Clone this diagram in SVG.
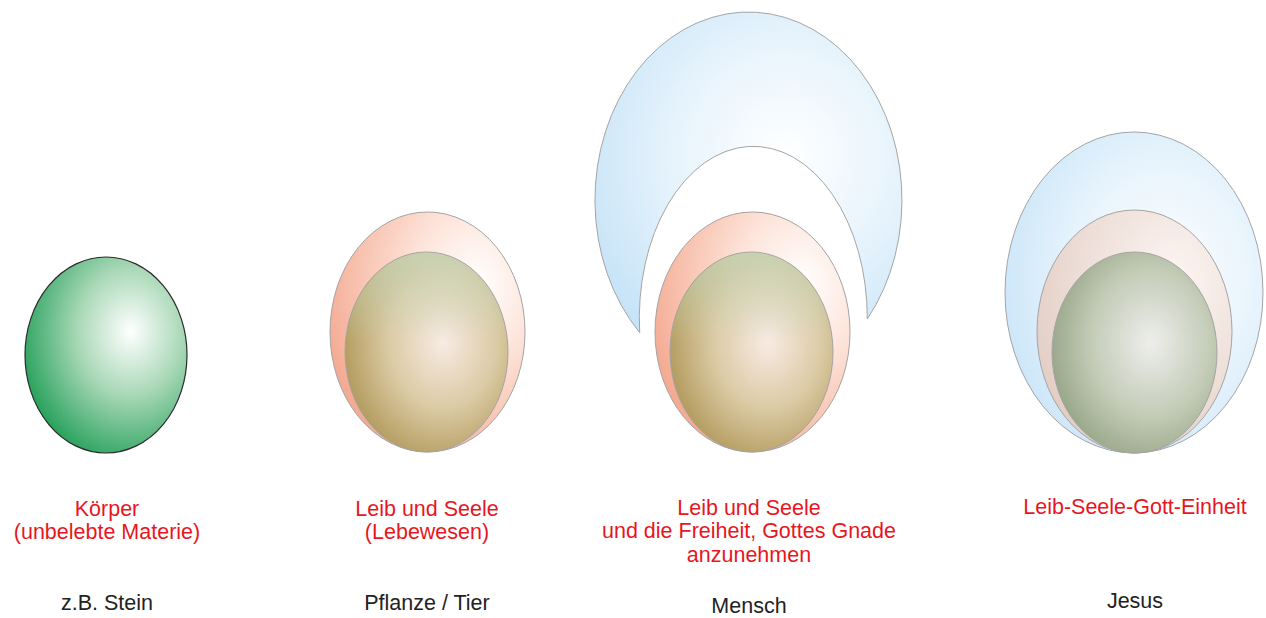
<svg xmlns="http://www.w3.org/2000/svg" width="1266" height="618" viewBox="0 0 1266 618">
<style>
.red{font-family:"Liberation Sans",Arial,sans-serif;font-size:21.5px;fill:#e8161e;text-anchor:middle}
.blk{font-family:"Liberation Sans",Arial,sans-serif;font-size:21.5px;fill:#222;text-anchor:middle}
.sh{stroke:#a4a4a4;stroke-width:1}
</style>
<defs>
<radialGradient id="gGreen" cx="0.65" cy="0.38" r="0.72" fx="0.65" fy="0.38">
<stop offset="0" stop-color="#ffffff"/><stop offset="0.45" stop-color="#a9d8b7"/><stop offset="1" stop-color="#1e9d55"/>
</radialGradient>
<radialGradient id="gSalmon" cx="0.75" cy="0.3" r="0.8">
<stop offset="0" stop-color="#ffffff"/><stop offset="0.4" stop-color="#fde4da"/><stop offset="1" stop-color="#f4ab93"/>
</radialGradient>
<radialGradient id="gOlive" cx="0.6" cy="0.45" r="0.72">
<stop offset="0" stop-color="#f8ebe4"/><stop offset="0.45" stop-color="#dccba6"/><stop offset="1" stop-color="#a58b45"/>
</radialGradient>
<linearGradient id="gTop" x1="0" y1="0" x2="0" y2="1">
<stop offset="0" stop-color="#c8dcc4" stop-opacity="0.7"/><stop offset="0.45" stop-color="#c8dcc4" stop-opacity="0"/>
</linearGradient>
<radialGradient id="gBlue" cx="0.62" cy="0.45" r="0.75">
<stop offset="0" stop-color="#ffffff"/><stop offset="0.5" stop-color="#e6f3fc"/><stop offset="1" stop-color="#c2e1f7"/>
</radialGradient>
<radialGradient id="gPink" cx="0.7" cy="0.3" r="0.8">
<stop offset="0" stop-color="#fdf6f3"/><stop offset="1" stop-color="#e2cdc4"/>
</radialGradient>
<radialGradient id="gSage" cx="0.6" cy="0.45" r="0.72">
<stop offset="0" stop-color="#eeeeec"/><stop offset="0.5" stop-color="#c4ccb8"/><stop offset="1" stop-color="#869875"/>
</radialGradient>
</defs>

<g id="node-koerper">
<ellipse cx="106" cy="355" rx="81" ry="98" fill="url(#gGreen)" stroke="#2a2a2a" stroke-width="1.2"/>
<text class="red" x="107" y="516">Körper</text>
<text class="red" x="107" y="539">(unbelebte Materie)</text>
<text class="blk" x="107" y="610">z.B. Stein</text>
</g>

<g id="node-pflanze">
<ellipse class="sh" cx="427.5" cy="332" rx="97.5" ry="120" fill="url(#gSalmon)"/>
<ellipse class="sh" cx="426.5" cy="352" rx="81.5" ry="100" fill="url(#gOlive)"/>
<ellipse cx="426.5" cy="352" rx="81" ry="99.5" fill="url(#gTop)"/>
<text class="red" x="427" y="516">Leib und Seele</text>
<text class="red" x="427" y="539">(Lebewesen)</text>
<text class="blk" x="427" y="610">Pflanze / Tier</text>
</g>

<g id="node-mensch">
<path class="sh" d="M639.7,332.7 A153.5,188 0 1 1 867.3,319 A114,172 0 1 0 639.7,332.7 Z" fill="url(#gBlue)"/>
<ellipse class="sh" cx="752.5" cy="332" rx="97.5" ry="120" fill="url(#gSalmon)"/>
<ellipse class="sh" cx="751.5" cy="352" rx="81.5" ry="100" fill="url(#gOlive)"/>
<ellipse cx="751.5" cy="352" rx="81" ry="99.5" fill="url(#gTop)"/>
<text class="red" x="749" y="515">Leib und Seele</text>
<text class="red" x="749" y="538">und die Freiheit, Gottes Gnade</text>
<text class="red" x="749" y="562">anzunehmen</text>
<text class="blk" x="749" y="613">Mensch</text>
</g>

<g id="node-jesus">
<ellipse class="sh" cx="1134" cy="292.5" rx="129" ry="160.5" fill="url(#gBlue)"/>
<ellipse class="sh" cx="1134.5" cy="331.5" rx="97.5" ry="121.5" fill="url(#gPink)"/>
<ellipse class="sh" cx="1134.5" cy="352.5" rx="82.5" ry="100.5" fill="url(#gSage)"/>
<text class="red" x="1135" y="514">Leib-Seele-Gott-Einheit</text>
<text class="blk" x="1135" y="608">Jesus</text>
</g>
</svg>
